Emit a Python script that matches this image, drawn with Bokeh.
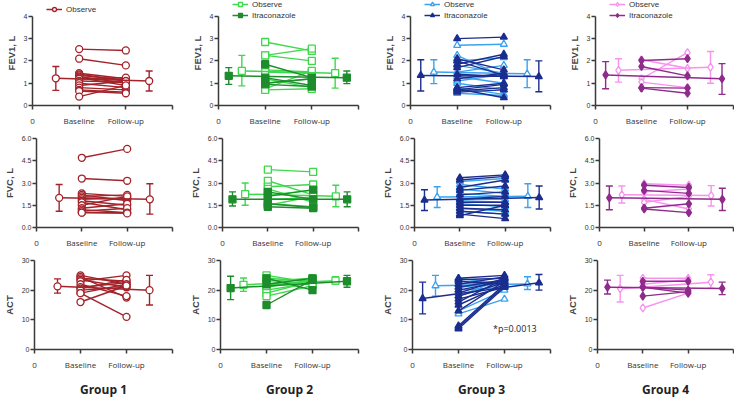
from bokeh.plotting import figure
from bokeh.layouts import column, row
from bokeh.models import (Range1d, FixedTicker, Legend, LegendItem, Whisker, TeeHead,
                          ColumnDataSource, PrintfTickFormatter)
from bokeh.core.properties import value
from bokeh.embed import file_html
from bokeh.resources import INLINE

GROUPS = ["Group 1", "Group 2", "Group 3", "Group 4"]
MEASURES = ["FEV1, L", "FVC, L", "ACT"]
X_TICK_LABELS = ["0", "Baseline", "Follow-up", ""]
SERIES_NAMES = ["Observe", "Itraconazole"]
Y_TICKS_FEV1 = [0, 1, 2, 3, 4]
Y_TICKS_FVC = [0, 1.5, 3.0, 4.5, 6.0]
Y_TICKS_ACT = [0, 10, 20, 30]
P_TEXT = "*p=0.0013"

# ---- paired values (baseline, follow-up) and group stats (mean, mean-SD, mean+SD) ----
# Group 1 (Observe only)
G1_FEV1_OBS = [(2.53, 2.47), (2.1, 1.8), (1.45, 1.2), (1.4, 1.1), (1.35, 1.15), (1.3, 1.0),
               (1.25, 0.9), (1.2, 1.25), (1.1, 1.05), (1.0, 0.8), (0.9, 1.1), (0.8, 0.7),
               (0.7, 0.6), (0.65, 0.55), (0.4, 0.9)]
G1_FEV1_OBS_MSD = [(1.22, 0.68, 1.75), (1.10, 0.65, 1.55)]
G1_FVC_OBS = [(4.7, 5.3), (3.3, 3.15), (2.3, 2.1), (2.2, 1.8), (2.1, 2.2), (2.0, 1.9),
              (1.9, 2.0), (1.8, 1.5), (1.7, 1.2), (1.5, 2.1), (1.3, 1.6), (1.2, 1.0),
              (1.1, 1.3), (1.0, 1.0), (1.0, 0.95)]
G1_FVC_OBS_MSD = [(2.0, 1.1, 2.9), (1.9, 0.9, 2.95)]
G1_ACT_OBS = [(25, 22), (24.5, 17.5), (24, 23), (23.5, 21), (23, 25), (22, 18), (21, 22.5),
              (20.5, 23.5), (20, 21), (19, 22), (19, 11), (16, 21.5)]
G1_ACT_OBS_MSD = [(21.3, 19.0, 23.8), (20.0, 15.0, 25.0)]

# Group 2
G2_FEV1_OBS = [(2.85, 2.45), (2.25, 2.55), (2.25, 2.0), (1.6, 1.5), (1.5, 1.45), (1.2, 0.8),
               (0.75, 1.55), (0.7, 0.75), (1.0, 1.2)]
G2_FEV1_OBS_MSD = [(1.55, 0.88, 2.25), (1.45, 0.78, 2.12)]
G2_FEV1_ITR = [(1.85, 1.25), (1.25, 0.9), (1.0, 1.2), (0.95, 0.85)]
G2_FEV1_ITR_MSD = [(1.33, 0.95, 1.7), (1.25, 0.98, 1.55)]
G2_FVC_OBS = [(3.9, 3.75), (3.15, 2.2), (2.75, 2.9), (2.6, 1.7), (2.2, 2.5), (1.9, 2.0),
              (1.6, 1.4), (1.5, 2.1)]
G2_FVC_OBS_MSD = [(2.25, 1.5, 3.0), (2.1, 1.4, 2.85)]
G2_FVC_ITR = [(2.4, 1.9), (2.1, 2.55), (1.6, 1.35), (1.4, 1.3)]
G2_FVC_ITR_MSD = [(1.9, 1.45, 2.4), (1.9, 1.4, 2.4)]
G2_ACT_OBS = [(25, 22.5), (24, 23), (23, 24), (22, 22), (21, 23.5), (20, 22.5), (19, 23), (18, 21.5)]
G2_ACT_OBS_MSD = [(21.8, 19.6, 24.1), (23.2, 22.0, 24.5)]
G2_ACT_ITR = [(24, 20), (22, 24), (15, 23.5)]
G2_ACT_ITR_MSD = [(20.7, 16.8, 24.7), (23.0, 21.0, 25.0)]

# Group 3
G3_FEV1_OBS = [(2.7, 2.75), (2.25, 1.3), (2.0, 2.15), (1.8, 1.45), (1.5, 1.8), (1.3, 1.0),
               (1.0, 0.7), (0.8, 0.5), (0.55, 0.45), (1.1, 1.4)]
G3_FEV1_OBS_MSD = [(1.5, 0.98, 2.05), (1.42, 0.8, 2.05)]
G3_FEV1_ITR = [(3.0, 3.07), (2.1, 1.6), (2.0, 1.35), (1.85, 2.3), (1.7, 2.2), (1.4, 1.3),
               (1.2, 1.45), (0.8, 1.0), (0.7, 0.95), (0.65, 0.8), (0.6, 0.7), (0.75, 0.35)]
G3_FEV1_ITR_MSD = [(1.35, 0.65, 2.05), (1.3, 0.62, 2.0)]
G3_FVC_OBS = [(3.1, 3.3), (2.9, 2.6), (2.6, 2.3), (2.3, 2.1), (2.0, 1.9), (1.8, 1.7),
              (1.6, 1.4), (1.3, 1.1), (1.1, 0.9)]
G3_FVC_OBS_MSD = [(2.05, 1.35, 2.75), (2.1, 1.35, 2.95)]
G3_FVC_ITR = [(3.35, 3.55), (3.2, 3.45), (2.7, 3.2), (2.5, 2.8), (2.2, 2.4), (1.9, 2.1),
              (1.7, 1.7), (1.5, 1.5), (1.3, 1.2), (1.1, 0.9), (0.9, 0.6), (0.8, 1.5)]
G3_FVC_ITR_MSD = [(1.85, 1.15, 2.55), (2.02, 1.25, 2.8)]
G3_ACT_OBS = [(24, 22), (22, 23), (20, 21), (18, 24), (12, 17), (13, 20), (21, 22.5)]
G3_ACT_OBS_MSD = [(21.5, 18.0, 25.0), (22.1, 20.2, 24.5)]
G3_ACT_ITR = [(24, 25), (23.5, 24), (23, 22), (22, 24.5), (21, 23.5), (20, 23), (19, 24),
              (18, 22.5), (17, 21), (16, 24), (15, 22), (13, 23), (8, 22), (7.5, 21.5), (7, 21)]
G3_ACT_ITR_MSD = [(17.2, 12.0, 22.7), (22.5, 20.0, 25.3)]

# Group 4
G4_FEV1_OBS = [(1.2, 2.37), (1.05, 0.8), (2.05, 1.67)]
G4_FEV1_OBS_MSD = [(1.58, 1.05, 2.1), (1.72, 1.0, 2.42)]
G4_FEV1_ITR = [(2.02, 2.1), (1.75, 1.33), (0.8, 0.78), (0.78, 0.55)]
G4_FEV1_ITR_MSD = [(1.37, 0.75, 1.97), (1.2, 0.5, 1.88)]
G4_FVC_OBS = [(2.95, 2.85), (2.4, 2.6), (1.9, 1.25), (1.7, 2.1)]
G4_FVC_OBS_MSD = [(2.2, 1.65, 2.8), (2.15, 1.45, 2.82)]
G4_FVC_ITR = [(2.85, 2.7), (2.5, 2.3), (1.3, 1.6), (1.25, 1.0)]
G4_FVC_ITR_MSD = [(2.0, 1.2, 2.8), (1.9, 1.15, 2.65)]
G4_ACT_OBS = [(24, 24), (14, 19), (22, 23.5)]
G4_ACT_OBS_MSD = [(20.5, 16.0, 25.0), (22.7, 20.7, 25.2)]
G4_ACT_ITR = [(23, 23), (21, 20), (18, 19.5), (21, 19)]
G4_ACT_ITR_MSD = [(21.0, 18.7, 23.4), (20.6, 18.5, 22.7)]

DATA = {
    (0, 0): [(G1_FEV1_OBS, G1_FEV1_OBS_MSD)],
    (0, 1): [(G1_FVC_OBS, G1_FVC_OBS_MSD)],
    (0, 2): [(G1_ACT_OBS, G1_ACT_OBS_MSD)],
    (1, 0): [(G2_FEV1_OBS, G2_FEV1_OBS_MSD), (G2_FEV1_ITR, G2_FEV1_ITR_MSD)],
    (1, 1): [(G2_FVC_OBS, G2_FVC_OBS_MSD), (G2_FVC_ITR, G2_FVC_ITR_MSD)],
    (1, 2): [(G2_ACT_OBS, G2_ACT_OBS_MSD), (G2_ACT_ITR, G2_ACT_ITR_MSD)],
    (2, 0): [(G3_FEV1_OBS, G3_FEV1_OBS_MSD), (G3_FEV1_ITR, G3_FEV1_ITR_MSD)],
    (2, 1): [(G3_FVC_OBS, G3_FVC_OBS_MSD), (G3_FVC_ITR, G3_FVC_ITR_MSD)],
    (2, 2): [(G3_ACT_OBS, G3_ACT_OBS_MSD), (G3_ACT_ITR, G3_ACT_ITR_MSD)],
    (3, 0): [(G4_FEV1_OBS, G4_FEV1_OBS_MSD), (G4_FEV1_ITR, G4_FEV1_ITR_MSD)],
    (3, 1): [(G4_FVC_OBS, G4_FVC_OBS_MSD), (G4_FVC_ITR, G4_FVC_ITR_MSD)],
    (3, 2): [(G4_ACT_OBS, G4_ACT_OBS_MSD), (G4_ACT_ITR, G4_ACT_ITR_MSD)],
}

# ---- styling / layout ----
COLORS = [("#a3232a", None), ("#3fd84c", "#1d8c2c"), ("#3ba2ef", "#1b2d8e"), ("#f792ef", "#8e2b8b")]
MARKERS = ["circle", "square", "triangle", "diamond"]
MSIZE = [7, 7, 7, 8]
MEAN_X = [(0.5, 2.5), (0.22, 2.75)]
Y_SETUP = [(Y_TICKS_FEV1, 4, "%d"), (Y_TICKS_FVC, 6, "%.1f"), (Y_TICKS_ACT, 30, "%d")]
COL_W = [186, 192, 185, 171]
FRAME_W = [140, 140, 140, 138]
LEFT = 32
ROW_H = [128, 122, 150]
TOP = [0, 10, 10]
BOTTOM = [22, 22, 50]
AXIS_PX = 90          # pixel height of the 0..max y axis in every panel
AXIS_COLOR = "#3a3a3a"


def make_panel(g, m):
    frame_h = ROW_H[m] - TOP[m] - BOTTOM[m]
    ymax = Y_SETUP[m][1]
    y_end = ymax * frame_h / AXIS_PX
    p = figure(width=COL_W[g], height=ROW_H[m], output_backend="svg", toolbar_location=None,
               x_range=Range1d(0, 3), y_range=Range1d(0, y_end),
               min_border_left=LEFT, min_border_right=COL_W[g] - LEFT - FRAME_W[g],
               min_border_top=TOP[m], min_border_bottom=BOTTOM[m])
    p.outline_line_color = None
    p.grid.visible = False
    p.background_fill_color = "white"
    p.border_fill_color = "white"

    xa = p.xaxis[0]
    xa.ticker = FixedTicker(ticks=[0, 1, 2, 3])
    xa.major_label_overrides = {i: X_TICK_LABELS[i] for i in range(4)}
    ya = p.yaxis[0]
    ya.ticker = FixedTicker(ticks=Y_SETUP[m][0])
    ya.formatter = PrintfTickFormatter(format=Y_SETUP[m][2])
    ya.bounds = (0, ymax)
    ya.axis_label = MEASURES[m]
    ya.axis_label_text_font = "Liberation Sans"
    ya.axis_label_text_font_style = "bold"
    ya.axis_label_text_font_size = "9.5px"
    ya.axis_label_standoff = 4
    for ax in (xa, ya):
        ax.axis_line_color = AXIS_COLOR
        ax.axis_line_width = 1.5
        ax.major_tick_line_color = AXIS_COLOR
        ax.major_tick_line_width = 1.5
        ax.major_tick_out = 4
        ax.major_tick_in = 0
        ax.minor_tick_line_color = None
        ax.major_label_text_color = "#333333"
    ya.major_label_text_font = "Liberation Sans"
    ya.major_label_text_font_size = "7px"
    ya.major_label_standoff = 1
    xa.major_label_text_font = "Open Sans"
    xa.major_label_text_font_size = "8px"
    xa.major_label_standoff = 5
    if m == 2:
        xa.axis_label = GROUPS[g]
        xa.axis_label_text_font = "Open Sans"
        xa.axis_label_text_font_style = "bold"
        xa.axis_label_text_font_size = "12px"
        xa.axis_label_standoff = 8
        xa.axis_label_text_color = "#222222"

    items = []
    for s, (pairs, msd) in enumerate(DATA[(g, m)]):
        color = COLORS[g][s]
        filled = (s == 1)
        fill = color if filled else "white"
        xs = [[1, 2] for _ in pairs]
        ys = [[b, f] for b, f in pairs]
        p.multi_line(xs, ys, line_color=color, line_width=1.4)
        px = [1] * len(pairs) + [2] * len(pairs)
        py = [b for b, f in pairs] + [f for b, f in pairs]
        p.scatter(px, py, marker=MARKERS[g], size=MSIZE[g], line_color=color, line_width=1.3,
                  fill_color=fill)
        mx = list(MEAN_X[s])
        means = [v[0] for v in msd]
        src = ColumnDataSource(dict(x=mx, lo=[v[1] for v in msd], hi=[v[2] for v in msd]))
        p.add_layout(Whisker(source=src, base="x", lower="lo", upper="hi", line_color=color,
                             line_width=1.4,
                             upper_head=TeeHead(size=7, line_color=color, line_width=1.4),
                             lower_head=TeeHead(size=7, line_color=color, line_width=1.4)))
        lr = p.line(mx, means, line_color=color, line_width=1.5)
        sr = p.scatter(mx, means, marker=MARKERS[g], size=MSIZE[g], line_color=color,
                       line_width=1.3, fill_color=fill)
        items.append(LegendItem(label=SERIES_NAMES[s], renderers=[lr, sr]))

    if g == 2 and m == 2:
        p.text(x=[1.75], y=[7.2], text=[P_TEXT], text_font_size="9px",
               text_font=value("Open Sans"), text_color="#222222", text_baseline="middle",
               text_align="left")

    if m == 0:
        n = len(items)
        leg_h = n * 10 + (n - 1)
        top_gap = 5 if n == 1 else 0
        leg = Legend(items=items, location=(14, frame_h - leg_h - top_gap),
                     orientation="vertical", padding=0, spacing=1, margin=0,
                     label_height=10, glyph_height=10, glyph_width=16, label_standoff=4,
                     label_text_font_size="8px", label_text_font="Liberation Sans",
                     label_text_color="#333333", border_line_color=None,
                     background_fill_alpha=0)
        p.add_layout(leg, "center")
    return p


rows = []
for m in range(3):
    rows.append(row([make_panel(g, m) for g in range(4)], spacing=0))
layout = column(rows, spacing=0)

open("out.html", "w").write(file_html(layout, INLINE))
